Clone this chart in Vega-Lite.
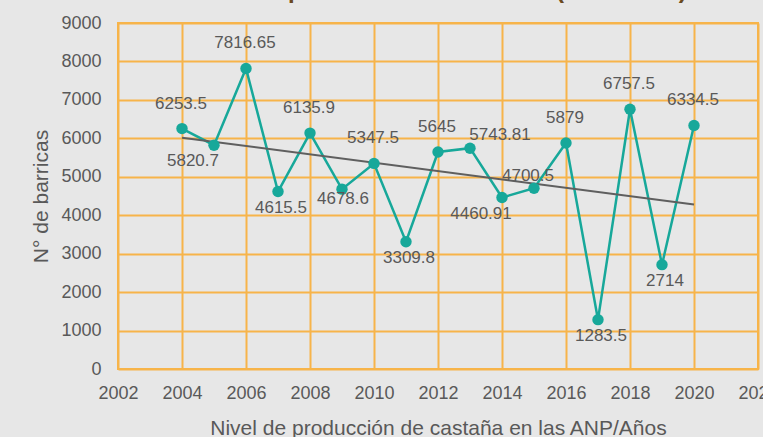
{
  "$schema": "https://vega.github.io/schema/vega-lite/v6.json",
  "width": 640,
  "height": 346,
  "autosize": "none",
  "padding": {"left": 118, "top": 23, "right": 5, "bottom": 68},
  "background": "#e7e7e7",
  "title": {
    "text": "Nivel de producción de castaña (2004-2020)",
    "fontSize": 24,
    "fontWeight": "bold",
    "color": "#6b4a1f",
    "font": "Liberation Sans",
    "offset": 0,
    "dy": 8,
    "baseline": "alphabetic",
    "anchor": "middle"
  },
  "config": {
    "view": {"stroke": "#F7B44A", "strokeWidth": 2},
    "axis": {
      "labelFont": "Liberation Sans",
      "labelFontSize": 18,
      "labelColor": "#595959",
      "titleFont": "Liberation Sans",
      "titleFontSize": 21,
      "titleFontWeight": "normal",
      "titleColor": "#595959",
      "ticks": false,
      "domain": false,
      "grid": true,
      "gridColor": "#F7B44A",
      "gridWidth": 2,
      "gridOpacity": 1
    }
  },
  "datasets": {
    "prod": [
      {"year": 2004, "value": 6253.5},
      {"year": 2005, "value": 5820.7},
      {"year": 2006, "value": 7816.65},
      {"year": 2007, "value": 4615.5},
      {"year": 2008, "value": 6135.9},
      {"year": 2009, "value": 4678.6},
      {"year": 2010, "value": 5347.5},
      {"year": 2011, "value": 3309.8},
      {"year": 2012, "value": 5645},
      {"year": 2013, "value": 5743.81},
      {"year": 2014, "value": 4460.91},
      {"year": 2015, "value": 4700.5},
      {"year": 2016, "value": 5879},
      {"year": 2017, "value": 1283.5},
      {"year": 2018, "value": 6757.5},
      {"year": 2019, "value": 2714},
      {"year": 2020, "value": 6334.5}
    ],
    "trend": [
      {"year": 2004, "value": 6018},
      {"year": 2020, "value": 4276}
    ]
  },
  "encoding": {
    "x": {
      "field": "year",
      "type": "quantitative",
      "scale": {"domain": [2002, 2022], "nice": false, "zero": false},
      "axis": {
        "values": [2002, 2004, 2006, 2008, 2010, 2012, 2014, 2016, 2018, 2020, 2022],
        "format": "d",
        "labelPadding": 15,
        "labelFlush": false,
        "labelOverlap": false,
        "title": "Nivel de producción de castaña en las ANP/Años",
        "titlePadding": 15
      }
    },
    "y": {
      "field": "value",
      "type": "quantitative",
      "scale": {"domain": [0, 9000], "nice": false},
      "axis": {
        "values": [0, 1000, 2000, 3000, 4000, 5000, 6000, 7000, 8000, 9000],
        "format": "d",
        "labelPadding": 17,
        "title": "N° de barricas",
        "titlePadding": 9
      }
    }
  },
  "layer": [
    {
      "data": {"name": "prod"},
      "mark": {"type": "line", "color": "#17A89A", "strokeWidth": 2.5}
    },
    {
      "data": {"name": "trend"},
      "mark": {"type": "line", "color": "#5f5f5f", "strokeWidth": 2}
    },
    {
      "data": {"name": "prod"},
      "mark": {"type": "point", "filled": true, "color": "#17A89A", "size": 130, "opacity": 1}
    },
    {
      "data": {"name": "prod"},
      "transform": [{"filter": {"field": "year", "oneOf": [2004, 2006, 2008, 2010, 2012, 2016, 2018, 2020]}}],
      "mark": {"type": "text", "font": "Liberation Sans", "fontSize": 17, "color": "#595959", "dy": -25, "dx": -1},
      "encoding": {"text": {"field": "value", "type": "nominal"}}
    },
    {
      "data": {"name": "prod"},
      "transform": [{"filter": {"field": "year", "oneOf": [2007, 2011, 2017, 2019]}}],
      "mark": {"type": "text", "font": "Liberation Sans", "fontSize": 17, "color": "#595959", "dy": 16, "dx": 3},
      "encoding": {"text": {"field": "value", "type": "nominal"}}
    },
    {
      "data": {"name": "prod"},
      "transform": [{"filter": {"field": "year", "oneOf": [2009]}}],
      "mark": {"type": "text", "font": "Liberation Sans", "fontSize": 17, "color": "#595959", "dy": 10, "dx": 1},
      "encoding": {"text": {"field": "value", "type": "nominal"}}
    },
    {
      "data": {"name": "prod"},
      "transform": [{"filter": {"field": "year", "oneOf": [2005, 2014]}}],
      "mark": {"type": "text", "font": "Liberation Sans", "fontSize": 17, "color": "#595959", "dy": 16, "dx": -21},
      "encoding": {"text": {"field": "value", "type": "nominal"}}
    },
    {
      "data": {"name": "prod"},
      "transform": [{"filter": {"field": "year", "oneOf": [2013]}}],
      "mark": {"type": "text", "font": "Liberation Sans", "fontSize": 17, "color": "#595959", "dy": -13, "dx": 30},
      "encoding": {"text": {"field": "value", "type": "nominal"}}
    },
    {
      "data": {"name": "prod"},
      "transform": [{"filter": {"field": "year", "oneOf": [2015]}}],
      "mark": {"type": "text", "font": "Liberation Sans", "fontSize": 17, "color": "#595959", "dy": -12, "dx": -6},
      "encoding": {"text": {"field": "value", "type": "nominal"}}
    }
  ]
}
